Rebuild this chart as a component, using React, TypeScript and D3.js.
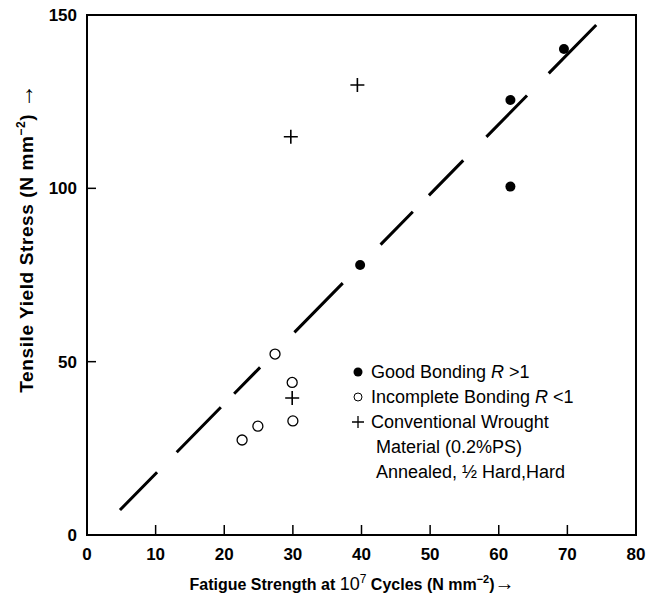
import * as d3 from "d3";

// values
const goodX = [39.8, 61.7, 61.7, 69.5];
const goodY = [77.9, 100.5, 125.5, 140.2];
const incompleteX = [22.6, 24.9, 27.4, 29.9, 30.0];
const incompleteY = [27.4, 31.4, 52.2, 44.0, 32.9];
const wroughtX = [29.9, 29.7, 39.4];
const wroughtY = [39.5, 114.9, 129.8];
const trendX = [4.8, 74.2];
const trendY = [7.2, 147.1];
const xTicks = [0, 10, 20, 30, 40, 50, 60, 70, 80];
const yTicks = [0, 50, 100, 150];

const W = 648;
const H = 601;
const FONT = "'Liberation Sans', Arial, Helvetica, sans-serif";

export default function App() {
  const x = d3.scaleLinear().domain([0, 80]).range([87, 636]);
  const y = d3.scaleLinear().domain([0, 150]).range([535, 15]);

  const line = d3
    .line<number>()
    .x((_, i) => x(trendX[i]))
    .y((_, i) => y(trendY[i]));

  return (
    <svg
      width={W}
      height={H}
      style={{ position: "absolute", left: 0, top: 0, background: "#fff" }}
      fontFamily={FONT}
    >
      {/* frame */}
      <rect
        x={x(0)}
        y={y(150)}
        width={x(80) - x(0)}
        height={y(0) - y(150)}
        fill="none"
        stroke="#000"
        strokeWidth={2}
      />
      {/* inward ticks */}
      {xTicks.slice(1, -1).map((t) => (
        <line key={"xt" + t} x1={x(t)} x2={x(t)} y1={y(0)} y2={y(0) - 10} stroke="#000" strokeWidth={1.5} />
      ))}
      {yTicks.slice(1, -1).map((t) => (
        <line key={"yt" + t} x1={x(0)} x2={x(0) + 9} y1={y(t)} y2={y(t)} stroke="#000" strokeWidth={1.5} />
      ))}
      {/* tick labels */}
      {xTicks.map((t) => (
        <text key={"xl" + t} x={x(t)} y={y(0) + 25} textAnchor="middle" fontSize={17} fontWeight="bold">
          {t}
        </text>
      ))}
      {yTicks.map((t) => (
        <text key={"yl" + t} x={x(0) - 10} y={y(t) + 6} textAnchor="end" fontSize={17} fontWeight="bold">
          {t}
        </text>
      ))}

      {/* axis titles */}
      <text x={352} y={590} textAnchor="middle" fontSize={16} fontWeight="bold">
        Fatigue Strength at{" "}
        <tspan fontWeight="normal" fontSize={18}>10</tspan>
        <tspan fontWeight="normal" fontSize={12} dy={-7}>7</tspan>
        <tspan dy={7}> Cycles (N mm</tspan>
        <tspan fontSize={11} dy={-7}>−2</tspan>
        <tspan dy={7}>)</tspan>
        <tspan fontSize={20}>→</tspan>
      </text>
      <text
        transform={`translate(33, 238) rotate(-90)`}
        textAnchor="middle"
        fontSize={19}
        fontWeight="bold"
        letterSpacing={0.6}
      >
        Tensile Yield Stress (N mm
        <tspan fontSize={12} dy={-8}>−2</tspan>
        <tspan dy={8}>) </tspan>
        <tspan fontSize={24}>→</tspan>
      </text>

      {/* trend line */}
      <path
        d={line(trendX) || ""}
        fill="none"
        stroke="#000"
        strokeWidth={3}
        strokeDasharray="53,28,63,19,37,49,69,54,46,23,49,33,58,31,68"
      />

      {/* data */}
      {goodX.map((v, i) => (
        <circle key={"g" + i} cx={x(v)} cy={y(goodY[i])} r={5} fill="#000" />
      ))}
      {incompleteX.map((v, i) => (
        <circle key={"c" + i} cx={x(v)} cy={y(incompleteY[i])} r={5} fill="#fff" stroke="#000" strokeWidth={1.3} />
      ))}
      {wroughtX.map((v, i) => (
        <path
          key={"w" + i}
          d={`M${x(v) - 7},${y(wroughtY[i])}h14M${x(v)},${y(wroughtY[i]) - 7}v14`}
          stroke="#000"
          strokeWidth={1.6}
        />
      ))}

      {/* legend */}
      <g fontSize={18}>
        <circle cx={358} cy={372} r={4.5} fill="#000" />
        <text x={371} y={378}>
          Good Bonding <tspan fontStyle="italic">R</tspan> &gt;1
        </text>
        <circle cx={358} cy={397} r={4} fill="none" stroke="#000" strokeWidth={1} />
        <text x={371} y={403}>
          Incomplete Bonding <tspan fontStyle="italic">R</tspan> &lt;1
        </text>
        <path d="M352,422h12M358,416v12" stroke="#000" strokeWidth={1.3} />
        <text x={371} y={428}>Conventional Wrought</text>
        <text x={376} y={453}>Material (0.2%PS)</text>
        <text x={376} y={478}>Annealed, ½ Hard,Hard</text>
      </g>
    </svg>
  );
}
